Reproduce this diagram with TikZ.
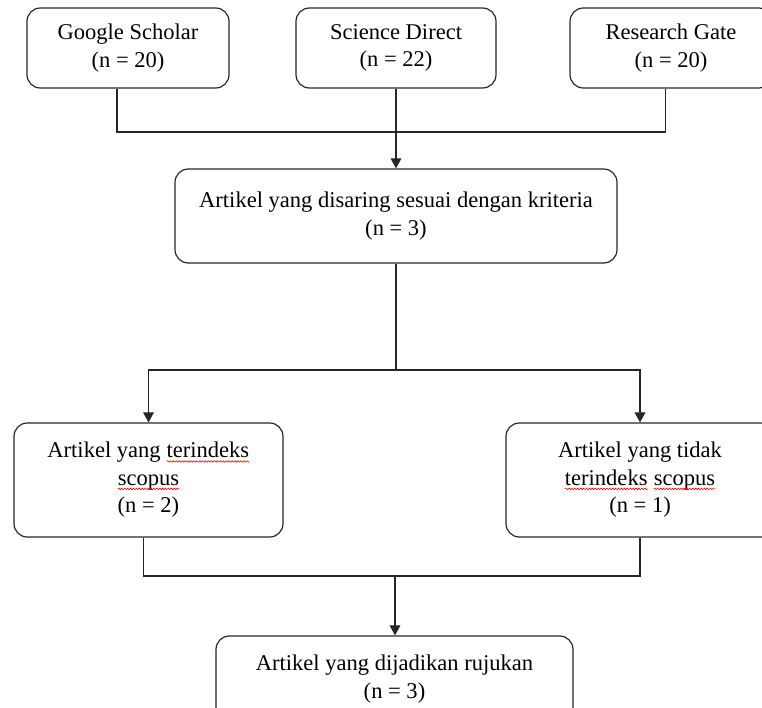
\documentclass[tikz,border=0pt]{standalone}
\usepackage{fontspec}
\setmainfont{Liberation Serif}
\usetikzlibrary{arrows.meta,decorations.pathmorphing}
\newcommand\wavy[1]{\tikz[baseline=(w.base)]{\node[draw=none,fill=none,sharp corners,inner sep=0pt,outer sep=0pt,minimum width=0pt,minimum height=0pt] (w) {#1};\draw[red,line width=0.45pt,sharp corners,decorate,decoration={snake,amplitude=0.55pt,segment length=2.2pt}] ([yshift=-2.6pt]w.base west) -- ([yshift=-2.6pt]w.base east);}}
\tikzset{
  box/.style={draw=black!85,line width=0.9pt,rounded corners=10pt,align=center,inner sep=2pt,
    font=\fontsize{16.9}{20.6}\selectfont},
  conn/.style={draw=black!85,line width=0.8pt},
  arr/.style={conn,-{Triangle[length=7.5pt,width=8pt]}}
}
\begin{document}
\begin{tikzpicture}[x=0.75pt,y=-0.75pt]
\useasboundingbox (0,0) rectangle (762,707);
% top row
\node[box,minimum width=151.5pt,minimum height=60pt] (gs) at (128,48) {Google Scholar\\(n = 20)};
\node[box,minimum width=150pt,minimum height=60pt] (sd) at (396,48) {Science Direct\\(n = 22)};
\node[box,minimum width=151.5pt,minimum height=60pt] (rg) at (671,48) {Research Gate\\(n = 20)};
% middle
\node[box,minimum width=331.5pt,minimum height=70.5pt] (mid) at (396,216) {Artikel yang disaring sesuai dengan kriteria\\(n = 3)};
% second row
\node[box,minimum width=201.75pt,minimum height=85.5pt] (L) at (148.5,480) {Artikel yang \wavy{terindeks}\\\wavy{scopus}\\(n = 2)};
\node[box,minimum width=201pt,minimum height=85.5pt] (R) at (640,480) {Artikel yang tidak\\\wavy{terindeks} \wavy{scopus}\\(n = 1)};
% bottom
\node[box,minimum width=267.75pt,minimum height=64.5pt] (bot) at (394.5,679) {Artikel yang dijadikan rujukan\\(n = 3)};
% junctions
\coordinate (j1) at (396,132);
\coordinate (j2) at (396,370);
\coordinate (j3) at (395,576);
% connectors
\draw[conn] ([xshift=-8.25pt]gs.south) |- (j1);
\draw[conn] ([xshift=-4pt]rg.south) |- (j1);
\draw[arr] (sd.south) -- (mid.north);
\draw[conn] (mid.south) -- (j2);
\draw[arr] (j2) -| (L.north);
\draw[arr] (j2) -| (R.north);
\draw[conn] ([xshift=-4pt]L.south) |- (j3);
\draw[conn] (R.south) |- (j3);
\draw[arr] (j3) -- (bot.north -| j3);
\end{tikzpicture}
\end{document}
